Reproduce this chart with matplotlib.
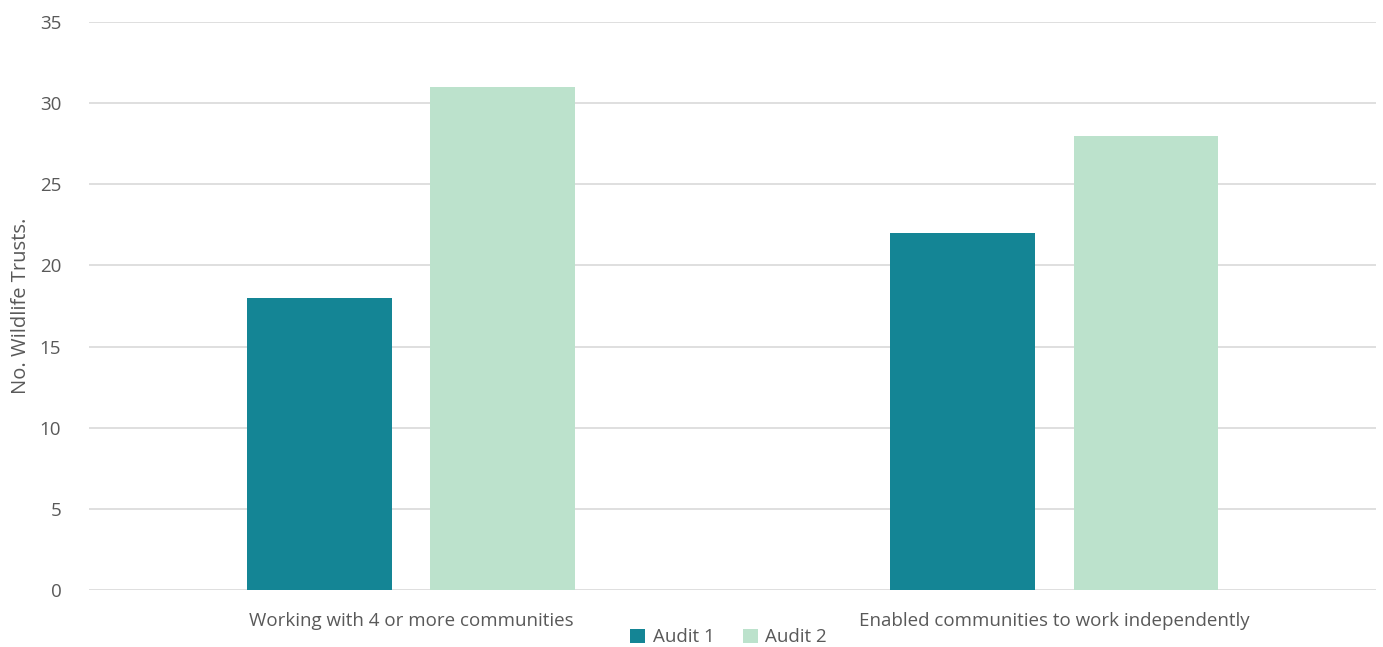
import matplotlib.pyplot as plt
import numpy as np

categories = ["Working with 4 or more communities", "Enabled communities to work independently"]
audit1 = [18, 22]
audit2 = [31, 28]
series_names = ["Audit 1", "Audit 2"]

plt.rcParams['font.family'] = ['Open Sans', 'DejaVu Sans']
text_color = '#595959'

fig = plt.figure(figsize=(13.83, 6.47), dpi=100)
ax = fig.add_axes([0.0644, 0.088, 0.9306, 0.878])

x = np.arange(len(categories))
w = 0.225
ax.bar(x - 0.1425, audit1, width=w, color='#148595', label=series_names[0], zorder=3)
ax.bar(x + 0.1425, audit2, width=w, color='#BCE2CC', label=series_names[1], zorder=3)

ax.set_xlim(-0.5, 1.5)
ax.set_ylim(0, 35)
ax.set_yticks(range(0, 36, 5))
ax.set_xticks(x)
ax.set_xticklabels(categories)
ax.grid(axis='y', color='#D9D9D9', linewidth=1.2, zorder=0)
for s in ax.spines.values():
    s.set_visible(False)
ax.tick_params(axis='both', length=0, labelsize=13.5, colors=text_color)
ax.tick_params(axis='x', pad=16)
ax.tick_params(axis='y', pad=20)
ax.set_ylabel("No. Wildlife Trusts.", fontsize=14.5, color=text_color, labelpad=6)

ax.legend(loc='upper center', bbox_to_anchor=(0.497, -0.064), ncol=2, frameon=False,
          fontsize=13.5, labelcolor=text_color, handlelength=0.8, handleheight=0.8,
          handletextpad=0.4, columnspacing=1.5, borderaxespad=0, borderpad=0.1)

fig.savefig("out.png", dpi=100)
